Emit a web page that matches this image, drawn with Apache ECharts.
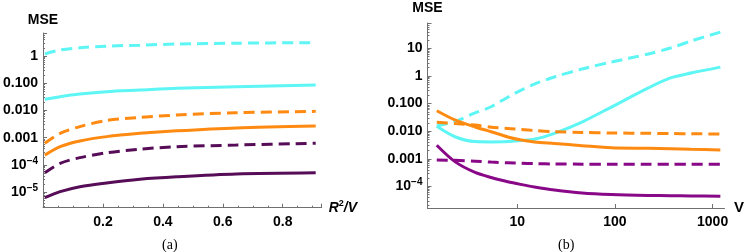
<!DOCTYPE html>
<html>
<head>
<meta charset="utf-8">
<script src="https://cdn.jsdelivr.net/npm/echarts@6/dist/echarts.min.js"></script>
<style>
html,body{margin:0;padding:0;background:#fff;}
#c{width:747px;height:252px;}
</style>
</head>
<body>
<div id="c"></div>
<script>
// ---- Panel (a) data: x = R^2/V ----
var xA = [0.006, 0.057, 0.123, 0.212, 0.323, 0.446, 0.645, 0.91];
var cyanDashA    = [1.18, 1.66, 2.0, 2.3, 2.5, 2.75, 2.95, 3.1];
var cyanSolidA   = [0.0257, 0.032, 0.040, 0.049, 0.056, 0.065, 0.074, 0.087];
var orangeDashA  = [6.3e-4, 1.45e-3, 2.57e-3, 4.3e-3, 5.6e-3, 6.8e-3, 8.3e-3, 9.3e-3];
var orangeSolidA = [2.3e-4, 4.7e-4, 7.6e-4, 1.1e-3, 1.45e-3, 1.8e-3, 2.3e-3, 2.7e-3];
var purpleDashA  = [5.2e-5, 1.15e-4, 1.86e-4, 2.8e-4, 3.8e-4, 4.7e-4, 5.4e-4, 6.3e-4];
var purpleSolidA = [6.3e-6, 1.05e-5, 1.6e-5, 2.2e-5, 3.0e-5, 3.7e-5, 4.7e-5, 5.2e-5];

// ---- Panel (b) data: x = V ----
var xB = [1.5, 2.3, 3.7, 5.4, 8, 11, 15, 24, 46, 92, 220, 370, 600, 1200];
var cyanDashB    = [0.0155, 0.0225, 0.046, 0.077, 0.17, 0.31, 0.51, 0.92, 1.8, 3.2, 6.3, 10.3, 18.5, 39];
var cyanSolidB   = [0.0150, 0.0063, 0.0042, 0.0041, 0.0042, 0.0046, 0.0051, 0.0084, 0.0215, 0.075, 0.37, 0.85, 1.28, 2.1];
var orangeDashB  = [0.021, 0.019, 0.0167, 0.014, 0.0125, 0.0115, 0.0106, 0.0096, 0.0090, 0.0086, 0.0084, 0.0082, 0.0081, 0.0079];
var orangeSolidB = [0.055, 0.0256, 0.0142, 0.0096, 0.0062, 0.0048, 0.0041, 0.0036, 0.0030, 0.0025, 0.0024, 0.0023, 0.0022, 0.0021];
var purpleDashB  = [9.1e-4, 8.8e-4, 8.2e-4, 7.6e-4, 7.2e-4, 6.9e-4, 6.7e-4, 6.5e-4, 6.4e-4, 6.3e-4, 6.3e-4, 6.3e-4, 6.3e-4, 6.3e-4];
var purpleSolidB = [0.0031, 7.9e-4, 3.2e-4, 2.1e-4, 1.48e-4, 1.17e-4, 9.5e-5, 7.4e-5, 5.8e-5, 5.1e-5, 4.7e-5, 4.6e-5, 4.5e-5, 4.4e-5];

var captions = ['(a)', '(b)'];
var yName = 'MSE';

var CYAN = '#5EF5F5', ORANGE = '#FF8A12', PURPLE_A = '#560C56', PURPLE_B = '#880888';
var AXIS_COLOR = '#707070';
var FONT = '"Liberation Sans", Arial, sans-serif';
var DASH = [11, 6];

function pairs(xs, ys) { return xs.map(function (x, i) { return [x, ys[i]]; }); }

function logLabel(v) {
  var e = Math.round(Math.log10(v));
  if (e >= 0) return '{b|' + Math.pow(10, e) + '}';
  if (e === -1) return '{b|0.100}';
  if (e === -2) return '{b|0.010}';
  if (e === -3) return '{b|0.001}';
  return '{b|10}{s|\u2212' + (-e) + '}';
}
var richLab = {
  b: { fontFamily: FONT, fontWeight: 'bold', fontSize: 14, color: '#000', lineHeight: 18 },
  s: { fontFamily: FONT, fontWeight: 'bold', fontSize: 10, color: '#000', verticalAlign: 'top', lineHeight: 18, padding: [0, 0, 6, 0] }
};

function line(xi, yi, xs, ys, color, dashed) {
  return {
    type: 'line', xAxisIndex: xi, yAxisIndex: yi,
    data: pairs(xs, ys), smooth: 0.3, showSymbol: false, symbol: 'none',
    lineStyle: { color: color, width: 3, type: dashed ? DASH : 'solid', cap: 'butt' },
    z: 3
  };
}

var chart = echarts.init(document.getElementById('c'), null, { renderer: 'canvas' });
chart.setOption({
  animation: false,
  backgroundColor: '#fff',
  grid: [
    { left: 43, top: 33, width: 278.7, height: 174.7 },
    { left: 427.5, top: 23, width: 299.5, height: 185 }
  ],
  xAxis: [
    {
      gridIndex: 0, type: 'value', min: 0, max: 0.93, interval: 0.2,
      axisLine: { show: true, onZero: false, lineStyle: { color: AXIS_COLOR, width: 1 } },
      axisTick: { show: true, inside: true, length: 4, lineStyle: { color: AXIS_COLOR } },
      minorTick: { show: true, splitNumber: 4, length: 2, lineStyle: { color: AXIS_COLOR } },
      splitLine: { show: false },
      axisLabel: { showMinLabel: false, showMaxLabel: false, margin: 7, fontFamily: FONT, fontWeight: 'bold', fontSize: 14, color: '#000',
        formatter: function (v) { return v.toFixed(1); } },
      name: '{i|R}{s|2}{i|/V}', nameLocation: 'end', nameGap: 7,
      nameTextStyle: { rich: {
        i: { fontFamily: FONT, fontStyle: 'italic', fontWeight: 'bold', fontSize: 14, color: '#000', lineHeight: 18 },
        s: { fontFamily: FONT, fontWeight: 'bold', fontSize: 9, color: '#000', verticalAlign: 'top', lineHeight: 18, padding: [0, 0, 6, 0] }
      } }
    },
    {
      gridIndex: 1, type: 'log', logBase: 10, min: 1.206, max: 1324,
      axisLine: { show: true, onZero: false, lineStyle: { color: AXIS_COLOR, width: 1 } },
      axisTick: { show: true, inside: true, length: 4, lineStyle: { color: AXIS_COLOR } },
      minorTick: { show: false },
      splitLine: { show: false },
      axisLabel: { showMinLabel: false, showMaxLabel: false, margin: 7, fontFamily: FONT, fontWeight: 'bold', fontSize: 14, color: '#000',
        formatter: function (v) { return String(Math.round(v)); } },
      name: 'V', nameLocation: 'end', nameGap: 8,
      nameTextStyle: { fontFamily: FONT, fontWeight: 'bold', fontSize: 15, color: '#000' }
    }
  ],
  yAxis: [
    {
      gridIndex: 0, type: 'log', logBase: 10, min: 2.71e-6, max: 6.98,
      axisLine: { show: true, onZero: false, lineStyle: { color: AXIS_COLOR, width: 1 } },
      axisTick: { show: true, inside: true, length: 4, lineStyle: { color: AXIS_COLOR } },
      minorTick: { show: true, splitNumber: 9, length: 2, lineStyle: { color: AXIS_COLOR } },
      splitLine: { show: false },
      axisLabel: { showMinLabel: false, showMaxLabel: false, margin: 5, formatter: logLabel, rich: richLab },
      name: yName, nameLocation: 'end', nameGap: 13,
      nameTextStyle: { fontFamily: FONT, fontWeight: 'bold', fontSize: 14, color: '#000', align: 'center', verticalAlign: 'middle' }
    },
    {
      gridIndex: 1, type: 'log', logBase: 10, min: 1.65e-5, max: 83.3,
      axisLine: { show: true, onZero: false, lineStyle: { color: AXIS_COLOR, width: 1 } },
      axisTick: { show: true, inside: true, length: 4, lineStyle: { color: AXIS_COLOR } },
      minorTick: { show: true, splitNumber: 9, length: 2, lineStyle: { color: AXIS_COLOR } },
      splitLine: { show: false },
      axisLabel: { showMinLabel: false, showMaxLabel: false, margin: 5, formatter: logLabel, rich: richLab },
      name: yName, nameLocation: 'end', nameGap: 15,
      nameTextStyle: { fontFamily: FONT, fontWeight: 'bold', fontSize: 14, color: '#000', align: 'center', verticalAlign: 'middle' }
    }
  ],
  graphic: [
    { type: 'text', left: 162, top: 238, style: { text: captions[0], font: '14px "Liberation Serif", "Times New Roman", serif', fill: '#000' } },
    { type: 'text', left: 558, top: 238, style: { text: captions[1], font: '14px "Liberation Serif", "Times New Roman", serif', fill: '#000' } }
  ],
  series: [
    line(0, 0, xA, cyanDashA, CYAN, true),
    line(0, 0, xA, cyanSolidA, CYAN, false),
    line(0, 0, xA, orangeDashA, ORANGE, true),
    line(0, 0, xA, orangeSolidA, ORANGE, false),
    line(0, 0, xA, purpleDashA, PURPLE_A, true),
    line(0, 0, xA, purpleSolidA, PURPLE_A, false),
    line(1, 1, xB, cyanDashB, CYAN, true),
    line(1, 1, xB, cyanSolidB, CYAN, false),
    line(1, 1, xB, orangeDashB, ORANGE, true),
    line(1, 1, xB, orangeSolidB, ORANGE, false),
    line(1, 1, xB, purpleDashB, PURPLE_B, true),
    line(1, 1, xB, purpleSolidB, PURPLE_B, false)
  ]
});
</script>
</body>
</html>
